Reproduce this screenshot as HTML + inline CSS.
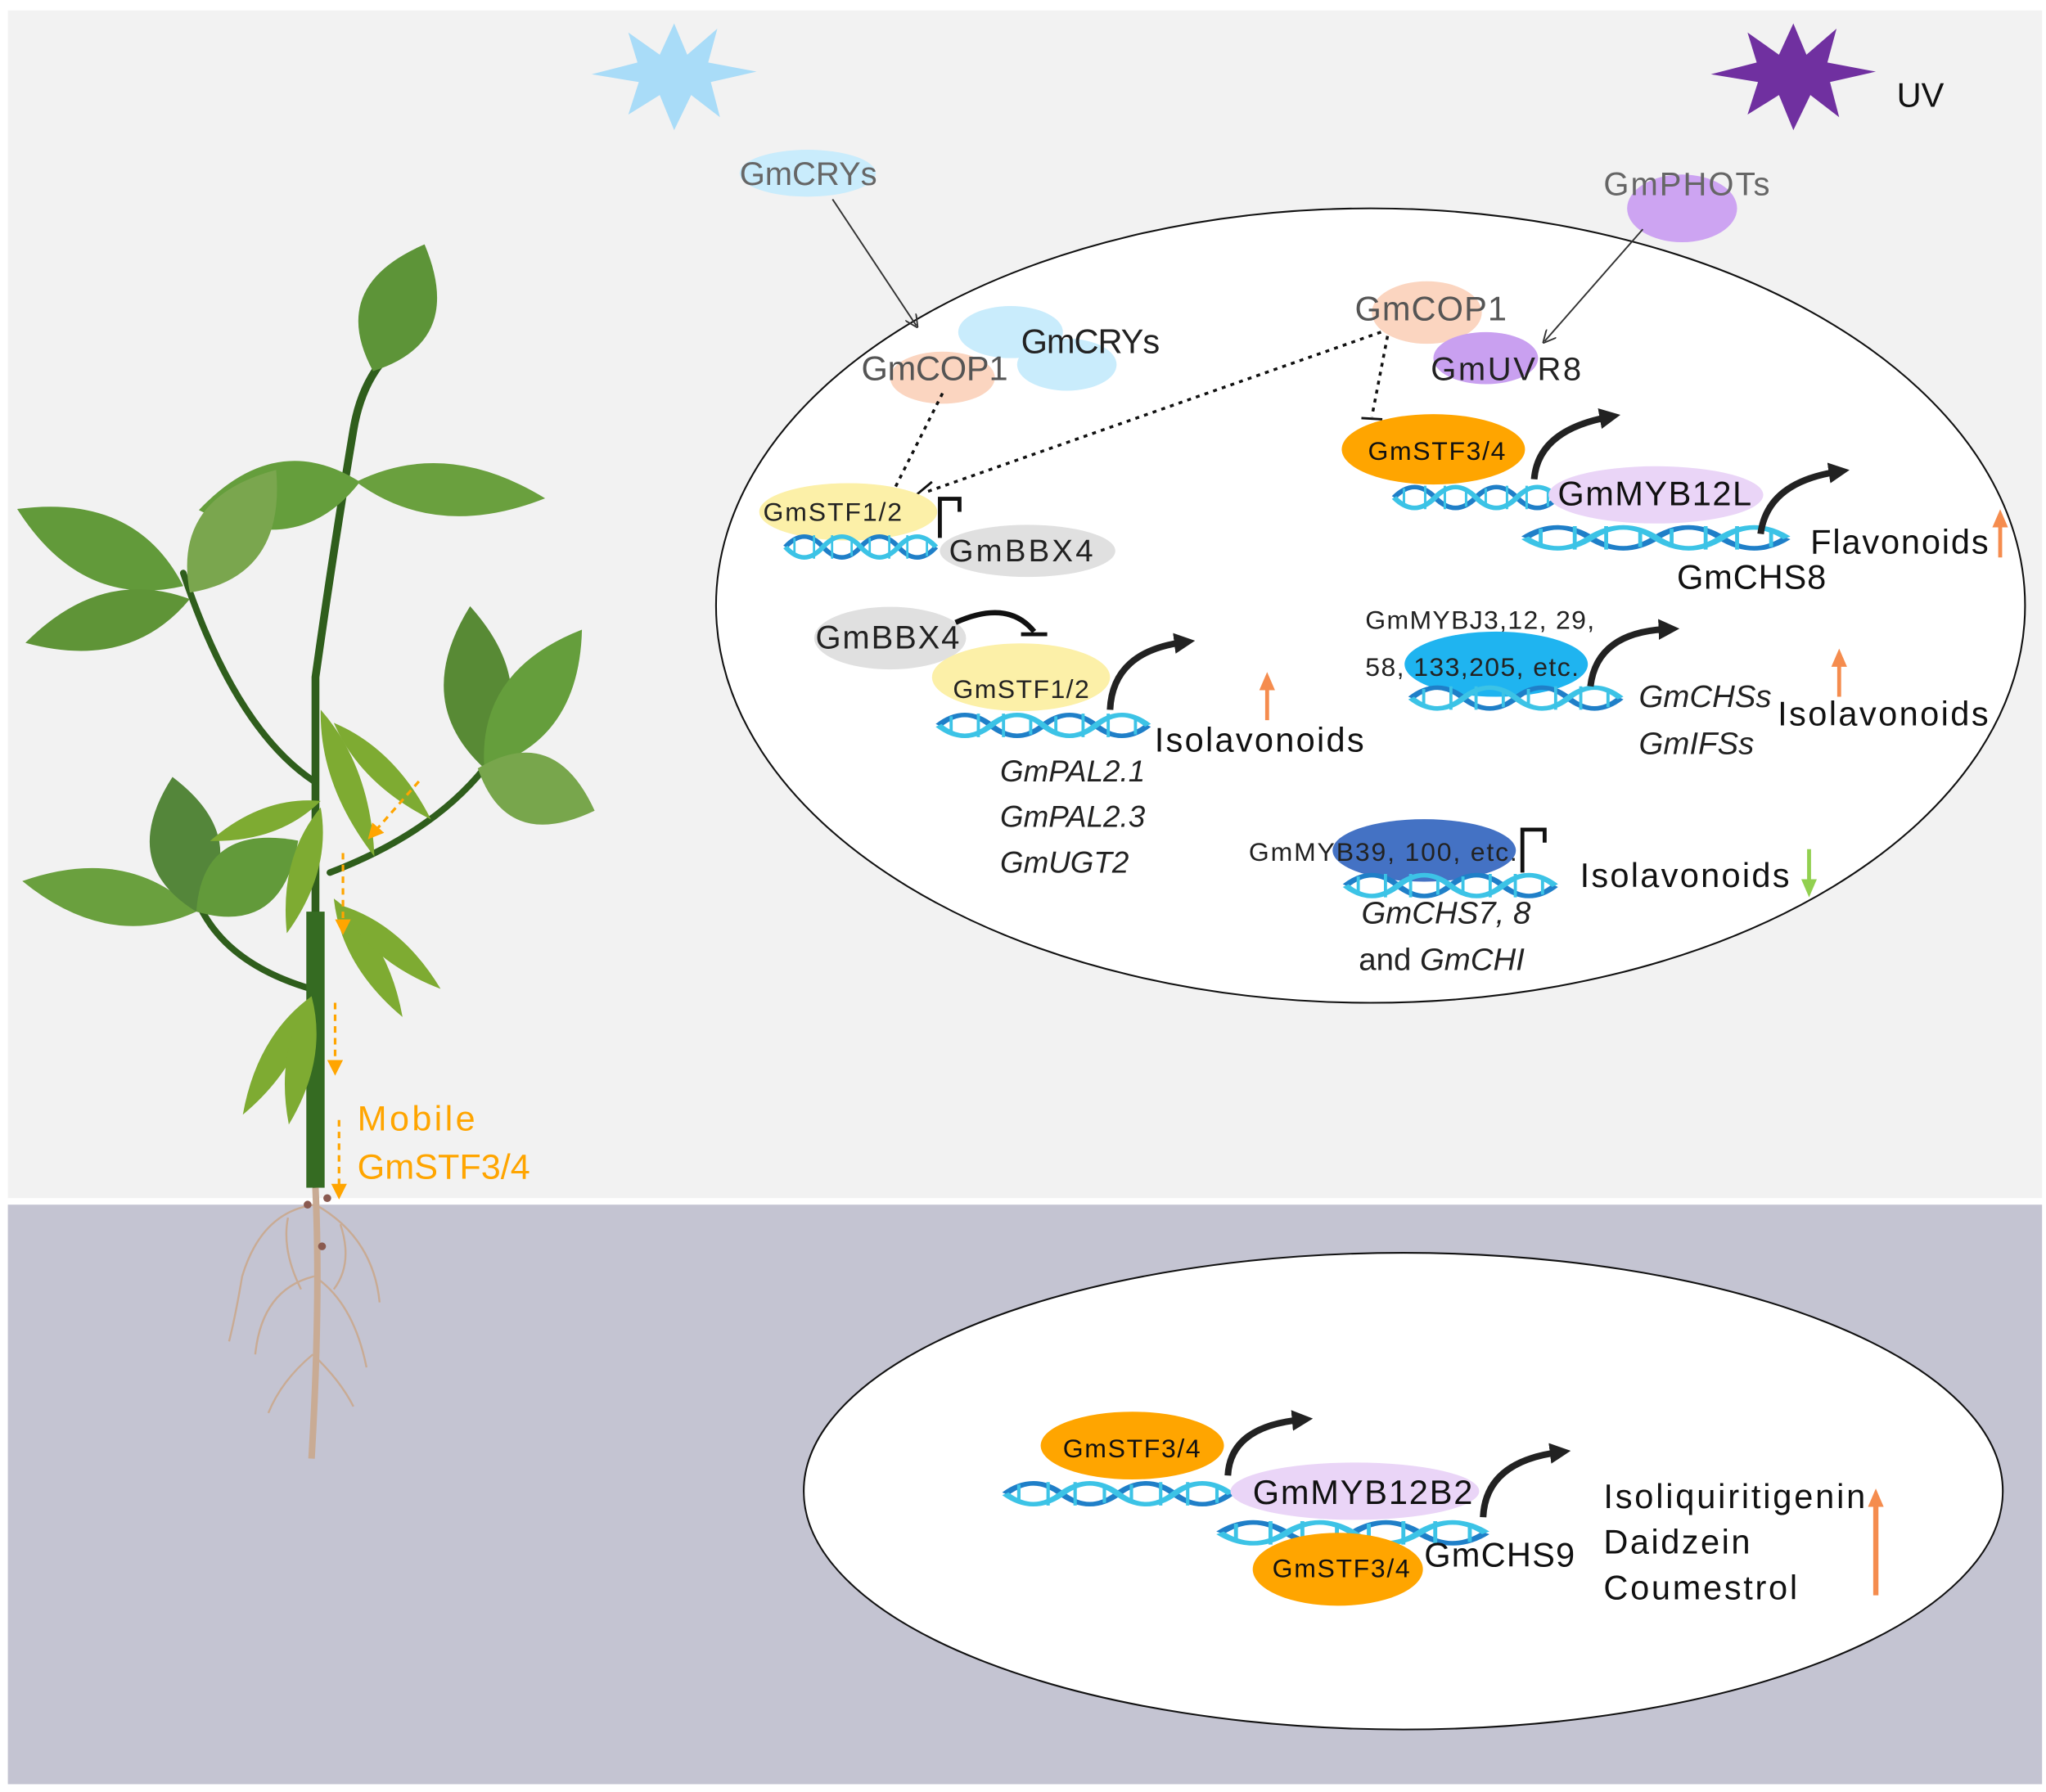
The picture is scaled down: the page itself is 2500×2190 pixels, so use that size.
<!DOCTYPE html>
<html><head><meta charset="utf-8"><style>
html,body{margin:0;padding:0;background:#fff}
svg{display:block}
text{font-family:"Liberation Sans",sans-serif}
</style></head><body>
<svg width="2500" height="2190" viewBox="0 0 1563 1376" preserveAspectRatio="none" xmlns="http://www.w3.org/2000/svg">
<defs>
<g id="dna">
<path d="M0,10 Q12.5,-6 25,10 T50,10 T75,10 T100,10" fill="none" stroke="#1f7fc8" stroke-width="3.5"/>
<path d="M0,10 Q12.5,26 25,10 T50,10 T75,10 T100,10" fill="none" stroke="#3cc3e6" stroke-width="3.5"/>
<path d="M6,3V17M19,1V19M31,1V19M44,3V17M56,3V17M69,1V19M81,1V19M94,3V17" stroke="#3cc3e6" stroke-width="1.5"/>
</g>
<path id="leaf" d="M0,0 Q45,-38 100,0 Q45,38 0,0Z"/>
<marker id="ar" markerWidth="10" markerHeight="10" refX="8" refY="5" orient="auto" markerUnits="userSpaceOnUse"><path d="M0,0L10,5L0,10" fill="none" stroke="#333" stroke-width="1.2"/></marker>
<marker id="oa" markerWidth="12" markerHeight="12" refX="6" refY="6" orient="auto" markerUnits="userSpaceOnUse"><path d="M0,0L12,6L0,12Z" fill="#ffa500"/></marker>
<marker id="bk" markerWidth="16" markerHeight="16" refX="8" refY="8" orient="auto" markerUnits="userSpaceOnUse"><path d="M0,0L16,8L0,16Z" fill="#222"/></marker>
<marker id="or" markerWidth="14" markerHeight="14" refX="7" refY="7" orient="auto" markerUnits="userSpaceOnUse"><path d="M0,1L14,7L0,13Z" fill="#f58c4e"/></marker>
<marker id="gr" markerWidth="14" markerHeight="14" refX="7" refY="7" orient="auto" markerUnits="userSpaceOnUse"><path d="M0,1L14,7L0,13Z" fill="#92d050"/></marker>
</defs>
<rect width="1563" height="1376" fill="#fff"/>
<rect x="6" y="8" width="1554" height="912" fill="#f2f2f2"/>
<rect x="6" y="925" width="1554" height="445" fill="#c4c4d2"/>

<polygon fill="#a9dcf8" points="515,18 525,42 548,22 541,48 578,55 543,63 550,90 528,73 515,100 504,73 480,88 488,63 452,57 487,48 480,25 504,42"/>
<polygon fill="#7030a0" points="1370,18 1380,42 1403,22 1396,48 1433,55 1398,63 1405,90 1383,73 1370,100 1359,73 1335,88 1343,63 1307,57 1342,48 1335,25 1359,42"/>
<text x="1449" y="82" font-size="26" fill="#111">UV</text>

<ellipse cx="617" cy="133" rx="52" ry="18" fill="#c9ecfc"/>
<text x="565" y="142" font-size="25" fill="#666" textLength="105">GmCRYs</text>
<ellipse cx="1285" cy="160" rx="42" ry="26" fill="#cda4f2"/>
<text x="1225" y="150" font-size="25" fill="#666" textLength="127">GmPHOTs</text>

<ellipse cx="1047" cy="465" rx="500" ry="305" fill="#fff" stroke="#111" stroke-width="1.3"/>
<line x1="636" y1="153" x2="700" y2="250" stroke="#333" stroke-width="1.2" marker-end="url(#ar)"/>
<line x1="1255" y1="176" x2="1180" y2="262" stroke="#333" stroke-width="1.2" marker-end="url(#ar)"/>

<ellipse cx="772" cy="255" rx="40" ry="20" fill="#c9ecfc"/>
<ellipse cx="815" cy="280" rx="38" ry="20" fill="#c9ecfc"/>
<ellipse cx="720" cy="290" rx="40" ry="20" fill="#fbd5c0"/>
<text x="780" y="271" font-size="26" fill="#222" textLength="106">GmCRYs</text>
<text x="658" y="292" font-size="26" fill="#555" textLength="112">GmCOP1</text>

<ellipse cx="1090" cy="240" rx="42" ry="24" fill="#fbd5c0"/>
<ellipse cx="1135" cy="275" rx="40" ry="20" fill="#c9a0f0"/>
<text x="1035" y="246" font-size="26" fill="#555" textLength="116">GmCOP1</text>
<text x="1093" y="292" font-size="25" fill="#222" textLength="115">GmUVR8</text>

<g stroke="#111" stroke-width="2.2" stroke-dasharray="3,4" fill="none">
<line x1="720" y1="302" x2="682" y2="378"/>
<line x1="1055" y1="255" x2="707" y2="378"/>
<line x1="1060" y1="258" x2="1048" y2="320"/>
</g>
<g stroke="#111" stroke-width="1.8"><line x1="674" y1="378" x2="690" y2="382"/><line x1="700" y1="380" x2="712" y2="370"/><line x1="1040" y1="321" x2="1056" y2="322"/></g>

<ellipse cx="648" cy="393" rx="68" ry="22" fill="#fcf0a8"/>
<text x="583" y="400" font-size="20" fill="#222" textLength="106">GmSTF1/2</text>
<use href="#dna" transform="translate(600,410) scale(1.15,1)"/>
<ellipse cx="785" cy="423" rx="67" ry="20" fill="#e0e0e0"/>
<text x="725" y="431" font-size="24" fill="#222" textLength="110">GmBBX4</text>
<path d="M718,413V383H733V393" fill="none" stroke="#111" stroke-width="3"/>

<ellipse cx="1095" cy="345" rx="70" ry="27" fill="#ffa500"/>
<text x="1045" y="353" font-size="20" fill="#111" textLength="105">GmSTF3/4</text>
<use href="#dna" transform="translate(1065,372) scale(1.25,1)"/>
<ellipse cx="1265" cy="380" rx="82" ry="22" fill="#ead5f7"/>
<text x="1190" y="388" font-size="26" fill="#111" textLength="148">GmMYB12L</text>
<path d="M1172,368 Q1175,330 1230,320" fill="none" stroke="#222" stroke-width="5" marker-end="url(#bk)"/>
<use href="#dna" transform="translate(1165,403) scale(2,1)"/>
<path d="M1345,410 Q1350,370 1405,362" fill="none" stroke="#222" stroke-width="5" marker-end="url(#bk)"/>
<text x="1383" y="425" font-size="26" fill="#111" textLength="136">Flavonoids</text>
<line x1="1528" y1="428" x2="1528" y2="398" stroke="#f58c4e" stroke-width="3" marker-end="url(#or)"/>
<text x="1281" y="452" font-size="26" fill="#111" textLength="114">GmCHS8</text>

<ellipse cx="680" cy="490" rx="58" ry="24" fill="#e0e0e0"/>
<text x="623" y="498" font-size="25" fill="#222" textLength="110">GmBBX4</text>
<path d="M730,478 Q770,460 790,485" fill="none" stroke="#111" stroke-width="4"/>
<line x1="780" y1="487" x2="800" y2="487" stroke="#111" stroke-width="3"/>
<ellipse cx="780" cy="520" rx="68" ry="26" fill="#fcf0a8"/>
<text x="728" y="536" font-size="20" fill="#222" textLength="104">GmSTF1/2</text>
<use href="#dna" transform="translate(717,547) scale(1.6,1)"/>
<path d="M848,545 Q850,500 905,493" fill="none" stroke="#222" stroke-width="5" marker-end="url(#bk)"/>
<text x="882" y="577" font-size="26" fill="#111" textLength="160">Isolavonoids</text>
<line x1="968" y1="553" x2="968" y2="523" stroke="#f58c4e" stroke-width="3" marker-end="url(#or)"/>
<g font-size="23" font-style="italic" fill="#222"><text x="764" y="600">GmPAL2.1</text><text x="764" y="635">GmPAL2.3</text><text x="764" y="670">GmUGT2</text></g>

<text x="1043" y="483" font-size="20" fill="#222" textLength="175">GmMYBJ3,12, 29,</text>
<ellipse cx="1143" cy="510" rx="70" ry="25" fill="#1fb4f0"/>
<text x="1043" y="519" font-size="20" fill="#222" textLength="163">58, 133,205, etc.</text>
<use href="#dna" transform="translate(1078,526) scale(1.6,1)"/>
<path d="M1215,527 Q1220,485 1275,483" fill="none" stroke="#222" stroke-width="5" marker-end="url(#bk)"/>
<g font-size="24" font-style="italic" fill="#222"><text x="1252" y="543">GmCHSs</text><text x="1252" y="579">GmIFSs</text></g>
<text x="1358" y="557" font-size="26" fill="#111" textLength="161">Isolavonoids</text>
<line x1="1405" y1="535" x2="1405" y2="505" stroke="#f58c4e" stroke-width="3" marker-end="url(#or)"/>

<ellipse cx="1088" cy="653" rx="70" ry="24" fill="#4472c4"/>
<text x="954" y="661" font-size="20" fill="#222" textLength="205">GmMYB39, 100, etc.</text>
<use href="#dna" transform="translate(1028,670) scale(1.6,1)"/>
<path d="M1163,670V637H1180V647" fill="none" stroke="#111" stroke-width="3"/>
<text x="1207" y="681" font-size="26" fill="#111" textLength="160">Isolavonoids</text>
<line x1="1382" y1="652" x2="1382" y2="682" stroke="#92d050" stroke-width="3" marker-end="url(#gr)"/>
<text x="1040" y="709" font-size="24" font-style="italic" fill="#222">GmCHS7, 8</text>
<text x="1038" y="745" font-size="24" fill="#222">and <tspan font-style="italic">GmCHI</tspan></text>

<ellipse cx="1072" cy="1145" rx="458" ry="183" fill="#fff" stroke="#111" stroke-width="1.3"/>
<ellipse cx="865" cy="1110" rx="70" ry="26" fill="#ffa500"/>
<text x="812" y="1119" font-size="20" fill="#111" textLength="105">GmSTF3/4</text>
<use href="#dna" transform="translate(768,1137) scale(1.72,1)"/>
<ellipse cx="1035" cy="1145" rx="95" ry="22" fill="#ead5f7"/>
<text x="957" y="1155" font-size="26" fill="#111" textLength="168">GmMYB12B2</text>
<path d="M938,1133 Q940,1095 995,1090" fill="none" stroke="#222" stroke-width="5" marker-end="url(#bk)"/>
<use href="#dna" transform="translate(932,1167) scale(2.03,1)"/>
<ellipse cx="1022" cy="1205" rx="65" ry="28" fill="#ffa500"/>
<text x="972" y="1211" font-size="20" fill="#111" textLength="105">GmSTF3/4</text>
<path d="M1133,1165 Q1135,1122 1192,1115" fill="none" stroke="#222" stroke-width="5" marker-end="url(#bk)"/>
<text x="1088" y="1203" font-size="26" fill="#111" textLength="115">GmCHS9</text>
<g font-size="26" fill="#111"><text x="1225" y="1158" textLength="200">Isoliquiritigenin</text><text x="1225" y="1193" textLength="112">Daidzein</text><text x="1225" y="1228" textLength="148">Coumestrol</text></g>
<line x1="1433" y1="1225" x2="1433" y2="1150" stroke="#f58c4e" stroke-width="4" marker-end="url(#or)"/>

<g stroke="#2f5e1c" fill="none" stroke-linecap="round">
<path d="M241,910 V520 Q255,420 270,330 Q275,300 290,280" stroke-width="6"/>
<path d="M240,600 Q180,560 140,440" stroke-width="5"/>
<path d="M240,760 Q170,740 150,690" stroke-width="5"/>
<path d="M252,670 Q330,640 370,590" stroke-width="5"/>
</g>
<rect x="234" y="700" width="14" height="212" fill="#356b22"/>
<g>
<use href="#leaf" transform="translate(285,285) rotate(-68) scale(1.05,1.5)" fill="#5d9438"/>
<use href="#leaf" transform="translate(275,370) rotate(-190) scale(1.25,1.35)" fill="#659e3c"/>
<use href="#leaf" transform="translate(272,370) rotate(5) scale(1.45,1.05)" fill="#6aa03e"/>
<use href="#leaf" transform="translate(140,450) rotate(-155) scale(1.4,1.3)" fill="#629a3a"/>
<use href="#leaf" transform="translate(145,455) rotate(-55) scale(1.15,1.4)" fill="#7aa64e"/>
<use href="#leaf" transform="translate(145,460) rotate(165) scale(1.3,1.1)" fill="#5f9437"/>
<use href="#leaf" transform="translate(150,700) rotate(-170) scale(1.35,1.1)" fill="#6aa03e"/>
<use href="#leaf" transform="translate(150,700) rotate(-100) scale(1.05,1.4)" fill="#54863a"/>
<use href="#leaf" transform="translate(150,700) rotate(-35) scale(0.95,1.4)" fill="#629a3a"/>
<use href="#leaf" transform="translate(370,590) rotate(-95) scale(1.25,1.35)" fill="#588a35"/>
<use href="#leaf" transform="translate(370,590) rotate(-55) scale(1.3,1.25)" fill="#659e3c"/>
<use href="#leaf" transform="translate(365,590) rotate(20) scale(0.95,1.4)" fill="#78a64c"/>
</g>
<g fill="#7eab32">
<use href="#leaf" transform="translate(245,545) rotate(70) scale(1.2,0.55)"/>
<use href="#leaf" transform="translate(255,555) rotate(45) scale(1.05,0.5)"/>
<use href="#leaf" transform="translate(245,615) rotate(160) scale(0.9,0.5)"/>
<use href="#leaf" transform="translate(245,620) rotate(105) scale(1.0,0.55)"/>
<use href="#leaf" transform="translate(255,690) rotate(60) scale(1.05,0.55)"/>
<use href="#leaf" transform="translate(260,695) rotate(40) scale(1.0,0.5)"/>
<use href="#leaf" transform="translate(238,765) rotate(120) scale(1.05,0.55)"/>
<use href="#leaf" transform="translate(238,765) rotate(100) scale(1.0,0.55)"/>
</g>
<g stroke="#ffa500" stroke-width="2" stroke-dasharray="5,4" fill="none">
<line x1="320" y1="600" x2="285" y2="640" marker-end="url(#oa)"/>
<line x1="262" y1="655" x2="262" y2="712" marker-end="url(#oa)"/>
<line x1="256" y1="770" x2="256" y2="820" marker-end="url(#oa)"/>
<line x1="259" y1="860" x2="259" y2="915" marker-end="url(#oa)"/>
</g>
<text x="273" y="868" font-size="27" fill="#ffa500" textLength="90">Mobile</text>
<text x="273" y="905" font-size="27" fill="#ffa500" textLength="132">GmSTF3/4</text>
<g stroke="#c9ab94" fill="none" stroke-width="1.5">
<path d="M241,912 Q245,1000 238,1120" stroke-width="5"/>
<path d="M241,925 Q200,930 185,980 Q180,1010 175,1030"/><path d="M241,925 Q285,950 290,1000"/>
<path d="M240,980 Q200,990 195,1040"/><path d="M240,980 Q270,1000 280,1050"/>
<path d="M239,1040 Q215,1060 205,1085"/><path d="M239,1040 Q260,1060 270,1080"/>
<path d="M220,935 Q215,960 230,990"/><path d="M260,940 Q270,970 255,990"/>
</g>
<circle cx="235" cy="925" r="3" fill="#8a5a50"/><circle cx="250" cy="920" r="3" fill="#8a5a50"/><circle cx="246" cy="957" r="3" fill="#8a5a50"/>
</svg>
</body></html>
